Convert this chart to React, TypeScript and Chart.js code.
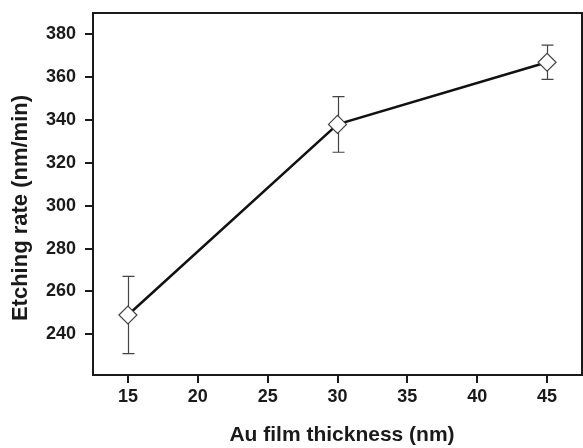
import React, { useEffect, useRef } from "react";
import { Chart, registerables } from "chart.js";

Chart.register(...registerables);

const thickness = [15, 30, 45];
const etchRate = [249, 338, 367];
const errLow = [231, 325, 359];
const errHigh = [267, 351, 375];
const xTicks = [15, 20, 25, 30, 35, 40, 45];
const yTicks = [240, 260, 280, 300, 320, 340, 360, 380];
const xTitle = "Au film thickness (nm)";
const yTitle = "Etching rate (nm/min)";

const FONT = "'Liberation Sans', Arial, sans-serif";
const INK = "#1a1a1a";

const errorBarPlugin = {
  id: "errorBars",
  beforeDatasetsDraw(chart: any) {
    const { ctx, scales } = chart;
    const xs = scales.x;
    const ys = scales.y;
    ctx.save();
    ctx.strokeStyle = "#444";
    ctx.lineWidth = 1.2;
    thickness.forEach((t, i) => {
      const x = Math.round(xs.getPixelForValue(t)) + 0.5;
      const yl = ys.getPixelForValue(errLow[i]);
      const yh = ys.getPixelForValue(errHigh[i]);
      ctx.beginPath();
      ctx.moveTo(x, yl);
      ctx.lineTo(x, yh);
      ctx.moveTo(x - 6, yl);
      ctx.lineTo(x + 6, yl);
      ctx.moveTo(x - 6, yh);
      ctx.lineTo(x + 6, yh);
      ctx.stroke();
    });
    ctx.restore();
  },
};

const framePlugin = {
  id: "frame",
  afterDraw(chart: any) {
    const { ctx, chartArea } = chart;
    ctx.save();
    ctx.strokeStyle = INK;
    ctx.lineWidth = 2;
    ctx.strokeRect(chartArea.left, chartArea.top, chartArea.right - chartArea.left, chartArea.bottom - chartArea.top);
    ctx.fillStyle = INK;
    ctx.textAlign = "center";
    ctx.textBaseline = "middle";
    ctx.font = `bold 21px ${FONT}`;
    ctx.fillText(xTitle, 342, 435);
    ctx.translate(21, 208);
    ctx.rotate(-Math.PI / 2);
    ctx.font = `bold 22px ${FONT}`;
    ctx.fillText(yTitle, 0, 0);
    ctx.restore();
  },
};

export default function App() {
  const ref = useRef<HTMLCanvasElement | null>(null);
  useEffect(() => {
    if (!ref.current) return;
    const chart = new Chart(ref.current, {
      type: "line",
      data: {
        datasets: [
          {
            data: thickness.map((t, i) => ({ x: t, y: etchRate[i] })),
            borderColor: "#111",
            borderWidth: 2.5,
            pointStyle: "rectRot",
            pointRadius: 9,
            pointBackgroundColor: "#fff",
            pointBorderColor: "#444",
            pointBorderWidth: 1.2,
            tension: 0,
          },
        ],
      },
      options: {
        animation: false,
        responsive: false,
        layout: { autoPadding: false, padding: { top: 13, right: 1, left: 0, bottom: 0 } },
        plugins: { legend: { display: false }, tooltip: { enabled: false } },
        scales: {
          x: {
            type: "linear",
            min: 12.5,
            max: 47.5,
            afterBuildTicks: (s: any) => {
              s.ticks = xTicks.map((v) => ({ value: v }));
            },
            afterFit: (s: any) => {
              s.height = 73;
              s.paddingLeft = 0;
              s.paddingRight = 0;
            },
            grid: { drawOnChartArea: false, tickLength: 8, tickColor: INK, lineWidth: 2 },
            border: { display: true, color: INK, width: 2 },
            ticks: { color: INK, padding: 3, font: { family: FONT, size: 18, weight: "bold" } },
            title: { display: false },
          },
          y: {
            type: "linear",
            min: 221,
            max: 390,
            afterBuildTicks: (s: any) => {
              s.ticks = yTicks.map((v) => ({ value: v }));
            },
            afterFit: (s: any) => {
              s.width = 93;
              s.paddingTop = 0;
              s.paddingBottom = 0;
            },
            grid: { drawOnChartArea: false, tickLength: 8, tickColor: INK, lineWidth: 2 },
            border: { display: true, color: INK, width: 2 },
            ticks: { color: INK, padding: 9, font: { family: FONT, size: 18, weight: "bold" } },
            title: { display: false },
          },
        },
      },
      plugins: [errorBarPlugin, framePlugin],
    } as any);
    return () => chart.destroy();
  }, []);
  return (
    <div style={{ position: "fixed", left: 0, top: 0, width: 583, height: 448, background: "#fff" }}>
      <canvas ref={ref} width={583} height={448} style={{ width: 583, height: 448, display: "block" }} />
    </div>
  );
}
